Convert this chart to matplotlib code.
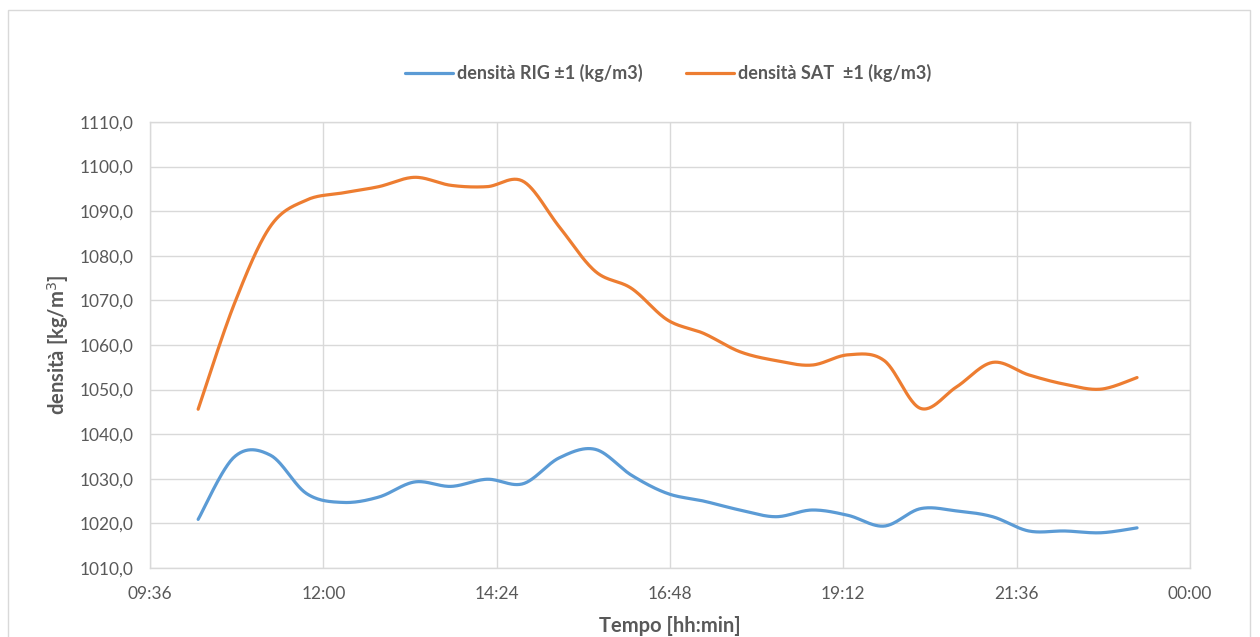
import numpy as np
import matplotlib
matplotlib.use("Agg")
import matplotlib.pyplot as plt
from matplotlib.ticker import FuncFormatter, MultipleLocator
from matplotlib.patches import Rectangle

# Sampling times (hh:mm) and measured densities
times = ["10:16", "10:46", "11:16", "11:46", "12:16", "12:46", "13:16", "13:46",
         "14:16", "14:46", "15:16", "15:46", "16:16", "16:46", "17:16", "17:46",
         "18:16", "18:46", "19:16", "19:46", "20:16", "20:46", "21:16", "21:46",
         "22:16", "22:46", "23:16"]
dens_rig = [1020.9, 1034.9, 1035.3, 1026.7, 1024.7, 1025.9, 1029.3, 1028.3,
            1029.9, 1028.9, 1034.7, 1036.6, 1030.8, 1026.7, 1025.0, 1023.0,
            1021.5, 1023.0, 1021.8, 1019.4, 1023.3, 1022.8, 1021.5, 1018.3,
            1018.3, 1017.9, 1019.0]
dens_sat = [1045.6, 1069.2, 1086.6, 1092.5, 1094.1, 1095.5, 1097.6, 1095.8,
            1095.5, 1096.7, 1086.5, 1076.5, 1072.7, 1065.6, 1062.6, 1058.5,
            1056.5, 1055.5, 1057.8, 1056.5, 1045.8, 1050.6, 1056.1, 1053.3,
            1051.2, 1050.1, 1052.7]

labels = ["densità RIG ±1 (kg/m3)", "densità SAT  ±1 (kg/m3)"]
colors = ["#5B9BD5", "#ED7D31"]


def day_fraction(t):
    h, m = t.split(":")
    return (int(h) * 60 + int(m)) / 1440.0


def smooth(x, y, n=30):
    """Bezier smoothing through every point (Catmull-Rom style)."""
    x = np.asarray(x, float)
    y = np.asarray(y, float)
    px = np.concatenate([[x[0]], x, [x[-1]]])
    py = np.concatenate([[y[0]], y, [y[-1]]])
    xs, ys = [], []
    t = np.linspace(0, 1, n)
    for i in range(1, len(px) - 2):
        p0 = np.array([px[i], py[i]])
        p3 = np.array([px[i + 1], py[i + 1]])
        c1 = p0 + (p3 - np.array([px[i - 1], py[i - 1]])) / 6.0
        c2 = p3 - (np.array([px[i + 2], py[i + 2]]) - p0) / 6.0
        b = ((1 - t) ** 3)[:, None] * p0 + (3 * (1 - t) ** 2 * t)[:, None] * c1 \
            + (3 * (1 - t) * t ** 2)[:, None] * c2 + (t ** 3)[:, None] * p3
        xs.append(b[:, 0])
        ys.append(b[:, 1])
    return np.concatenate(xs), np.concatenate(ys)


plt.rcParams["font.family"] = ["Lato", "DejaVu Sans"]

W, H = 1260, 637
fig = plt.figure(figsize=(W / 100, H / 100), dpi=100)
fig.patch.set_facecolor("white")
fig.patches.append(Rectangle((8 / W, -0.05), (1250 - 8) / W, 1.05 - 10 / H,
                             transform=fig.transFigure, fill=False,
                             edgecolor="#D9D9D9", lw=1.0))

ax = fig.add_axes([150 / W, 1 - 568 / H, (1190 - 150) / W, (568 - 122) / H])

x = [day_fraction(t) for t in times]
for vals, lab, col in zip([dens_rig, dens_sat], labels, colors):
    sx, sy = smooth(x, vals)
    ax.plot(sx, sy, color=col, lw=2.3, label=lab, solid_capstyle="round")

ax.set_xlim(0.4, 1.0)
ax.set_ylim(1010, 1110)
ax.xaxis.set_major_locator(MultipleLocator(0.1))
ax.yaxis.set_major_locator(MultipleLocator(10))


def fmt_time(v, pos):
    mins = int(round(v * 1440)) % 1440
    return f"{mins // 60:02d}:{mins % 60:02d}"


ax.xaxis.set_major_formatter(FuncFormatter(fmt_time))
ax.yaxis.set_major_formatter(FuncFormatter(lambda v, p: f"{v:.1f}".replace(".", ",")))

ax.grid(True, color="#D9D9D9", lw=1.0)
ax.set_axisbelow(True)
for s in ax.spines.values():
    s.set_color("#D9D9D9")
    s.set_linewidth(1.0)
ax.tick_params(length=0, colors="#595959", labelsize=12.5)
ax.tick_params(axis="x", pad=13)
ax.tick_params(axis="y", pad=12)

ax.set_xlabel("Tempo [hh:min]", fontsize=14.5, fontweight="bold", color="#595959", labelpad=10)
ax.set_ylabel("densità [kg/m$^3$]", fontsize=14.5, fontweight="bold", color="#595959", labelpad=6)

leg = ax.legend(loc="center", bbox_to_anchor=(668 / W, 1 - 73 / H),
                bbox_transform=fig.transFigure, ncol=2, frameon=False,
                handlelength=2.65, columnspacing=2.4, handletextpad=0.22,
                prop={"size": 13, "weight": "bold"})
for t in leg.get_texts():
    t.set_color("#595959")

fig.savefig("out.png", dpi=100, facecolor="white")
